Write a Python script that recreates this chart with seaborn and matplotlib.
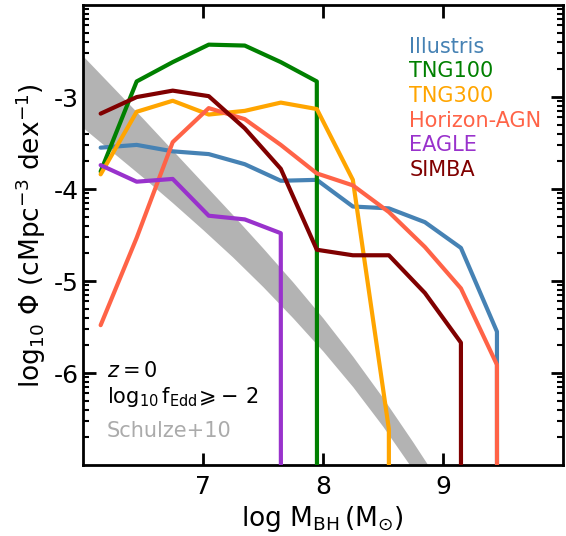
import numpy as np
import pandas as pd
import matplotlib
matplotlib.use("Agg")
import matplotlib.pyplot as plt
import matplotlib.ticker as mticker
import seaborn as sns

# black hole mass bins (log Msun)
mbh = [6.15, 6.45, 6.75, 7.05, 7.35, 7.65, 7.95, 8.25, 8.55, 8.85, 9.15, 9.45, 9.75]
ninf = -np.inf  # empty bin

# log10 Phi for each simulation
illustris = [-3.55, -3.52, -3.59, -3.62, -3.73, -3.91, -3.90, -4.19, -4.21, -4.36, -4.64, -5.55, ninf]
tng100 = [-3.81, -2.83, -2.62, -2.43, -2.44, -2.62, -2.83, ninf, ninf, ninf, ninf, ninf, ninf]
tng300 = [-3.84, -3.16, -3.04, -3.19, -3.15, -3.06, -3.13, -3.90, -6.61, ninf, ninf, ninf, ninf]
horizon = [-5.48, -4.53, -3.49, -3.12, -3.24, -3.52, -3.83, -3.96, -4.25, -4.63, -5.08, -5.91, ninf]
eagle = [-3.74, -3.92, -3.89, -4.29, -4.33, -4.48, ninf, ninf, ninf, ninf, ninf, ninf, ninf]
simba = [-3.18, -3.00, -2.93, -2.99, -3.34, -3.78, -4.66, -4.72, -4.72, -5.13, -5.67, ninf, ninf]

sims = ["Illustris", "TNG100", "TNG300", "Horizon-AGN", "EAGLE", "SIMBA"]
sim_data = [illustris, tng100, tng300, horizon, eagle, simba]
colors = ["steelblue", "green", "orange", "tomato", "darkorchid", "maroon"]

# Schulze+10 observed band (log10 Phi lower / upper)
band_x = [6.0, 6.25, 6.5, 6.75, 7.0, 7.25, 7.5, 7.75, 8.0, 8.25, 8.5, 8.75, 9.0]
band_lo = [-3.33, -3.60, -3.87, -4.15, -4.44, -4.74, -5.06, -5.40, -5.76, -6.15, -6.58, -7.05, -7.55]
band_hi = [-2.55, -2.89, -3.23, -3.58, -3.93, -4.28, -4.64, -5.01, -5.40, -5.82, -6.27, -6.75, -7.25]

sns.set_style("ticks")
plt.rcParams["font.family"] = ["DejaVu Sans"]
plt.rcParams["mathtext.fontset"] = "dejavusans"
plt.rcParams["mathtext.default"] = "regular"
for k in ["axes.edgecolor", "axes.labelcolor", "text.color", "xtick.color", "ytick.color"]:
    plt.rcParams[k] = "black"

fig = plt.figure(figsize=(5.66, 5.36), dpi=100)
ax = fig.add_axes([0.146, 0.1325, 0.8487, 0.858])
ax.set_yscale("log", nonpositive="clip")

ax.fill_between(band_x, 10 ** np.array(band_lo), 10 ** np.array(band_hi),
                color="0.7", lw=0, zorder=1)

for name, vals, c in zip(sims, sim_data, colors):
    df = pd.DataFrame({"mbh": mbh, "phi": 10 ** np.array(vals)})
    sns.lineplot(data=df, x="mbh", y="phi", color=c, lw=3, label=name,
                 estimator=None, errorbar=None, ax=ax, zorder=3)

ax.set_xlim(6, 10)
ax.set_ylim(1e-7, 1e-2)
ax.set_xticks([7, 8, 9])
ax.xaxis.set_minor_locator(mticker.NullLocator())
ax.yaxis.set_major_locator(mticker.FixedLocator([1e-6, 1e-5, 1e-4, 1e-3]))
ax.yaxis.set_major_formatter(mticker.FuncFormatter(lambda v, p: "%d" % round(np.log10(v))))
ax.yaxis.set_minor_locator(mticker.LogLocator(base=10, subs=np.arange(2, 10), numticks=20))
ax.yaxis.set_minor_formatter(mticker.NullFormatter())

ax.tick_params(which="both", direction="in", top=True, right=True, labelsize=18)
ax.tick_params(axis="x", which="major", length=9, width=2, pad=7)
ax.tick_params(axis="y", which="major", length=9, width=2, pad=3)
ax.tick_params(which="minor", length=4, width=1.5)
for s in ax.spines.values():
    s.set_linewidth(2)

ax.set_xlabel(r"$\log\,M_{BH}\,(M_{\odot})$", fontsize=19)
ax.set_ylabel(r"$\log_{10}\,\Phi\ (\mathrm{cMpc^{-3}\ dex^{-1}})$", fontsize=19)

ax.text(0.05, 0.191, r"$\mathit{z} = 0$", transform=ax.transAxes, fontsize=15, va="baseline")
ax.text(0.05, 0.135, r"$\log_{10}\mathrm{f_{Edd}}\!\geqslant\!-\,2$", transform=ax.transAxes,
        fontsize=15, va="baseline")
ax.text(0.05, 0.061, "Schulze+10", color="0.67", transform=ax.transAxes, fontsize=15,
        va="baseline")

leg = ax.legend(loc="upper right", bbox_to_anchor=(0.955, 0.931), frameon=False,
                handlelength=0, handletextpad=0, labelcolor="linecolor", fontsize=15,
                labelspacing=0.22, borderpad=0, borderaxespad=0)
for h in leg.legend_handles:
    h.set_visible(False)

fig.savefig("out.png", dpi=100)
